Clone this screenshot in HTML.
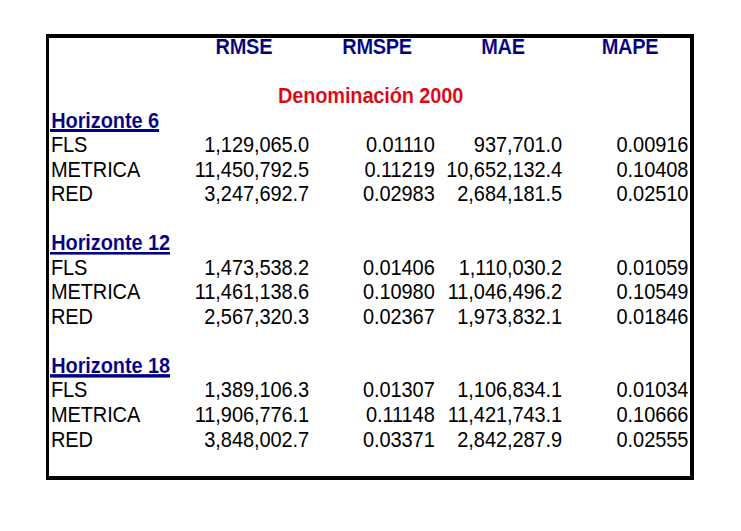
<!DOCTYPE html>
<html>
<head>
<meta charset="utf-8">
<title>Tabla</title>
<style>
html,body{margin:0;padding:0;background:#fff;}
body{width:741px;height:531px;position:relative;overflow:hidden;font-family:"Liberation Sans",sans-serif;font-size:20px;line-height:24px;color:#000;}
#box{position:absolute;left:46px;top:34px;width:641px;height:438px;border-style:solid;border-color:#000;border-width:4px 4px 4px 3px;}
.t{position:absolute;white-space:nowrap;height:24px;transform:scaleY(1.065);transform-origin:0 19px;}
.l{left:51.0px;letter-spacing:-0.13px;}
.n{text-align:right;letter-spacing:-0.08px;}
.c1{right:431.9px;}
.c2{right:306.3px;}
.c3{right:178.9px;}
.c4{right:52.7px;}
.h{-webkit-text-stroke:0.1px #fff;font-weight:bold;color:#000080;letter-spacing:-0.3px;width:120px;text-align:center;}
.hz{-webkit-text-stroke:0.1px #fff;font-weight:bold;color:#000080;letter-spacing:-0.10px;left:51.2px;}
.u{position:absolute;background:#000080;left:50.2px;}
.red{-webkit-text-stroke:0.1px #fff;font-weight:bold;color:#dc0512;letter-spacing:-0.15px;}
</style>
</head>
<body>
<div id="box"></div>

<div class="t h" style="left:183.9px;top:35px;">RMSE</div>
<div class="t h" style="left:317.1px;top:35px;">RMSPE</div>
<div class="t h" style="left:443.0px;top:35px;">MAE</div>
<div class="t h" style="left:570.0px;top:35px;">MAPE</div>

<div class="t red" style="left:277.9px;top:84px;">Denominación 2000</div>

<div class="t hz" style="top:109px;">Horizonte 6</div>
<div class="u" style="top:129px;height:3px;width:108.8px;"></div>
<div class="t l" style="top:133px;">FLS</div>
<div class="t n c1" style="top:133px;">1,129,065.0</div>
<div class="t n c2" style="top:133px;">0.01110</div>
<div class="t n c3" style="top:133px;">937,701.0</div>
<div class="t n c4" style="top:133px;">0.00916</div>
<div class="t l" style="top:158px;">METRICA</div>
<div class="t n c1" style="top:158px;">11,450,792.5</div>
<div class="t n c2" style="top:158px;">0.11219</div>
<div class="t n c3" style="top:158px;">10,652,132.4</div>
<div class="t n c4" style="top:158px;">0.10408</div>
<div class="t l" style="top:182px;">RED</div>
<div class="t n c1" style="top:182px;">3,247,692.7</div>
<div class="t n c2" style="top:182px;">0.02983</div>
<div class="t n c3" style="top:182px;">2,684,181.5</div>
<div class="t n c4" style="top:182px;">0.02510</div>

<div class="t hz" style="top:231px;">Horizonte 12</div>
<div class="u" style="top:252px;height:2px;width:119.6px;"></div>
<div class="u" style="top:254px;height:1px;width:119.6px;opacity:0.6;"></div>
<div class="t l" style="top:256px;">FLS</div>
<div class="t n c1" style="top:256px;">1,473,538.2</div>
<div class="t n c2" style="top:256px;">0.01406</div>
<div class="t n c3" style="top:256px;">1,110,030.2</div>
<div class="t n c4" style="top:256px;">0.01059</div>
<div class="t l" style="top:280px;">METRICA</div>
<div class="t n c1" style="top:280px;">11,461,138.6</div>
<div class="t n c2" style="top:280px;">0.10980</div>
<div class="t n c3" style="top:280px;">11,046,496.2</div>
<div class="t n c4" style="top:280px;">0.10549</div>
<div class="t l" style="top:305px;">RED</div>
<div class="t n c1" style="top:305px;">2,567,320.3</div>
<div class="t n c2" style="top:305px;">0.02367</div>
<div class="t n c3" style="top:305px;">1,973,832.1</div>
<div class="t n c4" style="top:305px;">0.01846</div>

<div class="t hz" style="top:354px;">Horizonte 18</div>
<div class="u" style="top:374px;height:1px;width:119.6px;opacity:0.85;"></div>
<div class="u" style="top:375px;height:2px;width:119.6px;"></div>
<div class="u" style="top:377px;height:1px;width:119.6px;opacity:0.6;"></div>
<div class="t l" style="top:378px;">FLS</div>
<div class="t n c1" style="top:378px;">1,389,106.3</div>
<div class="t n c2" style="top:378px;">0.01307</div>
<div class="t n c3" style="top:378px;">1,106,834.1</div>
<div class="t n c4" style="top:378px;">0.01034</div>
<div class="t l" style="top:403px;">METRICA</div>
<div class="t n c1" style="top:403px;">11,906,776.1</div>
<div class="t n c2" style="top:403px;">0.11148</div>
<div class="t n c3" style="top:403px;">11,421,743.1</div>
<div class="t n c4" style="top:403px;">0.10666</div>
<div class="t l" style="top:428px;">RED</div>
<div class="t n c1" style="top:428px;">3,848,002.7</div>
<div class="t n c2" style="top:428px;">0.03371</div>
<div class="t n c3" style="top:428px;">2,842,287.9</div>
<div class="t n c4" style="top:428px;">0.02555</div>

</body>
</html>
